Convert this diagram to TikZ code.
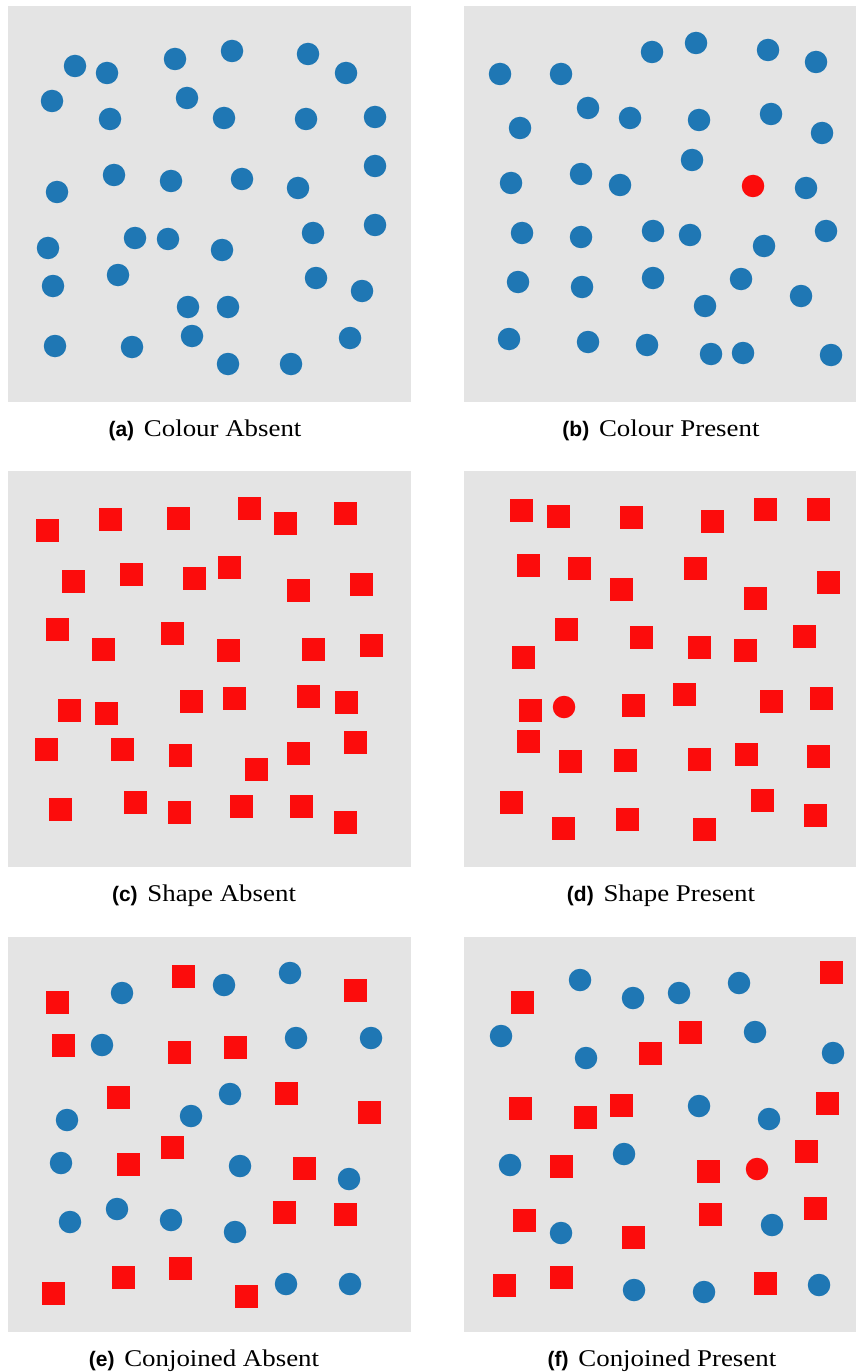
\documentclass[tikz,border=0pt]{standalone}
\usepackage{fontspec}
\setmainfont{Liberation Serif}[FakeStretch=1.12]
\newfontfamily\labfont{Liberation Sans}
\definecolor{tblue}{HTML}{1F77B4}
\definecolor{tred}{HTML}{FC0C0C}
\definecolor{panelbg}{HTML}{E4E4E4}
\tikzset{
  bdot/.style={circle,fill=tblue,minimum size=22.5pt,inner sep=0pt,draw=none},
  rdot/.style={circle,fill=tred,minimum size=22.5pt,inner sep=0pt,draw=none},
  rsq/.style={rectangle,fill=tred,minimum size=23pt,inner sep=0pt,draw=none},
  panel/.style={fill=panelbg,draw=none},
  captxt/.style={font=\fontsize{24}{28}\selectfont,inner sep=0pt,anchor=base}
}
\newcommand{\lab}[1]{{\labfont\bfseries\fontsize{21}{28}\selectfont(#1)}\hspace{3pt}}
\begin{document}
\begin{tikzpicture}[x=1pt,y=-1pt]
\useasboundingbox (0,0) rectangle (856,1372);
\fill[white] (0,0) rectangle (856,1372);
% panels
\fill[panel] (8,6) rectangle (411,402);
\fill[panel] (464,6) rectangle (856,402);
\fill[panel] (8,471) rectangle (411,867);
\fill[panel] (464,471) rectangle (856,867);
\fill[panel] (8,937) rectangle (411,1332);
\fill[panel] (464,937) rectangle (856,1332);
% (a)
\foreach \x/\y [count=\i] in {75/66,107/73,175/59,232/51,308/54,346/73,52/101,187/98,110/119,224/118,306/119,375/117,375/166,57/192,114/175,171/181,242/179,298/188,48/248,135/238,168/239,222/250,313/233,375/225,53/286,118/275,316/278,362/291,188/307,228/307,55/346,132/347,192/336,350/338,228/364,291/364}
  \node[bdot] (a\i) at (\x,\y) {};
% (b)
\foreach \x/\y [count=\i] in {500/74,561/74,652/52,696/43,768/50,816/62,520/128,588/108,630/118,699/120,771/114,822/133,692/160,511/183,581/174,620/185,806/188,522/233,581/237,653/231,690/235,764/246,826/231,518/282,582/287,653/278,741/279,801/296,705/306,509/339,588/342,647/345,711/354,743/353,831/355}
  \node[bdot] (b\i) at (\x,\y) {};
\node[rdot] (bodd) at (753,186) {};
% (c)
\foreach \x/\y [count=\i] in {47/530,110/519,178/518,249/508,285/523,345/513,73/581,131/574,194/578,229/567,298/590,361/584,57/629,103/649,172/633,228/650,313/649,371/645,69/710,106/713,191/701,234/698,308/696,346/702,46/749,122/749,180/755,256/769,298/753,355/742,60/809,135/802,179/812,241/806,301/806,345/822}
  \node[rsq] (c\i) at (\x,\y) {};
% (d)
\foreach \x/\y [count=\i] in {521/510,558/516,631/517,712/521,765/509,818/509,528/565,579/568,695/568,621/589,755/598,828/582,566/629,641/637,699/647,745/650,804/636,523/657,530/710,633/705,684/694,771/701,821/698,528/741,570/761,625/760,699/759,746/754,818/756,511/802,563/828,627/819,704/829,762/800,815/815}
  \node[rsq] (d\i) at (\x,\y) {};
\node[rdot] (dodd) at (564,707) {};
% (e)
\foreach \x/\y [count=\i] in {57/1002,183/976,355/990,63/1045,179/1052,235/1047,118/1097,286/1093,369/1112,128/1164,172/1147,304/1168,284/1212,345/1214,53/1293,123/1277,180/1268,246/1296}
  \node[rsq] (es\i) at (\x,\y) {};
\foreach \x/\y [count=\i] in {122/993,224/985,290/973,102/1045,296/1038,371/1038,230/1094,67/1120,191/1116,61/1163,240/1166,349/1179,70/1222,117/1209,171/1220,235/1232,286/1284,350/1284}
  \node[bdot] (ec\i) at (\x,\y) {};
% (f)
\foreach \x/\y [count=\i] in {831/972,522/1002,690/1032,650/1053,520/1108,585/1117,621/1105,827/1103,561/1166,708/1171,806/1151,524/1220,633/1237,710/1214,815/1208,504/1285,561/1277,765/1283}
  \node[rsq] (fs\i) at (\x,\y) {};
\foreach \x/\y [count=\i] in {580/980,633/998,679/993,739/983,501/1036,755/1032,586/1058,833/1053,699/1106,769/1119,510/1165,624/1154,561/1233,772/1225,634/1290,704/1292,819/1285}
  \node[bdot] (fc\i) at (\x,\y) {};
\node[rdot] (fodd) at (757,1169) {};
% captions
\node[captxt] (capa) at (205,436) {\lab{a} Colour Absent};
\node[captxt] (capb) at (661,436) {\lab{b} Colour Present};
\node[captxt] (capc) at (204,901) {\lab{c} Shape Absent};
\node[captxt] (capd) at (661,901) {\lab{d} Shape Present};
\node[captxt] (cape) at (204,1366) {\lab{e} Conjoined Absent};
\node[captxt] (capf) at (662,1366) {\lab{f} Conjoined Present};
\end{tikzpicture}
\end{document}
